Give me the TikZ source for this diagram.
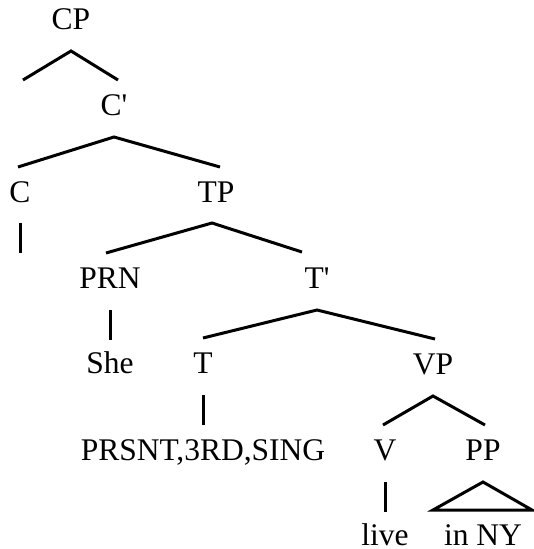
\documentclass[tikz,border=0pt]{standalone}
\usepackage{fontspec}
\newfontfamily\tnr{Liberation Serif}
\begin{document}
\begin{tikzpicture}[x=1pt,y=-1pt,
  lab/.style={font=\tnr\fontsize{31.5}{36}\selectfont, anchor=base, inner sep=0pt},
  branch/.style={line width=3pt, line cap=butt, line join=miter}]
\useasboundingbox (0,0) rectangle (533,549);
% nodes (positioned by baseline)
\node[lab] (CP)   at (71,29)  {CP};
\node[lab] (Cbar) at (114,115) {C'};
\node[lab] (C)    at (20,202) {C};
\node[lab] (TP)   at (216,202) {TP};
\node[lab] (PRN)  at (110,288) {PRN};
\node[lab] (Tbar) at (317,288) {T'};
\node[lab] (She)  at (110,373) {She};
\node[lab] (T)    at (203,373) {T};
\node[lab] (VP)   at (433,374) {VP};
\node[lab] (feat) at (203,460) {PRSNT,3RD,SING};
\node[lab] (V)    at (385,460) {V};
\node[lab] (PP)   at (483,460) {PP};
\node[lab] (live) at (385,545) {live};
\node[lab] (inNY) at (483,545) {in NY};
% free ends
\coordinate (spec) at (23,80);
\coordinate (Cend) at (20,253);
% branches
\draw[branch] (spec) -- ([yshift=-22pt]CP.base) -- ([shift={(4pt,35pt)}]Cbar.base);
\draw[branch] ([xshift=-2pt,yshift=35pt]C.base) -- ([yshift=-22pt]Cbar.base) -- ([xshift=4pt,yshift=35pt]TP.base);
\draw[branch] ([yshift=-21pt]C.base) -- (Cend);
\draw[branch] ([xshift=-4pt,yshift=35pt]PRN.base) -- ([xshift=-4pt,yshift=-21pt]TP.base) -- ([xshift=-15pt,yshift=36pt]Tbar.base);
\draw[branch] ([yshift=-22pt]PRN.base) -- ([yshift=33pt]She.base);
\draw[branch] ([yshift=35pt]T.base) -- ([yshift=-22pt]Tbar.base) -- ([xshift=2pt,yshift=35pt]VP.base);
\draw[branch] ([yshift=-22pt]T.base) -- ([yshift=35pt]feat.base);
\draw[branch] ([xshift=-2pt,yshift=35pt]V.base) -- ([yshift=-22pt]VP.base) -- ([xshift=2pt,yshift=35pt]PP.base);
\draw[branch] ([yshift=-22pt]V.base) -- ([yshift=33pt]live.base);
\draw[branch] ([yshift=-22pt]PP.base) -- ([shift={(49pt,35pt)}]inNY.base) -- ([shift={(-50pt,35pt)}]inNY.base) -- cycle;
\end{tikzpicture}
\end{document}
